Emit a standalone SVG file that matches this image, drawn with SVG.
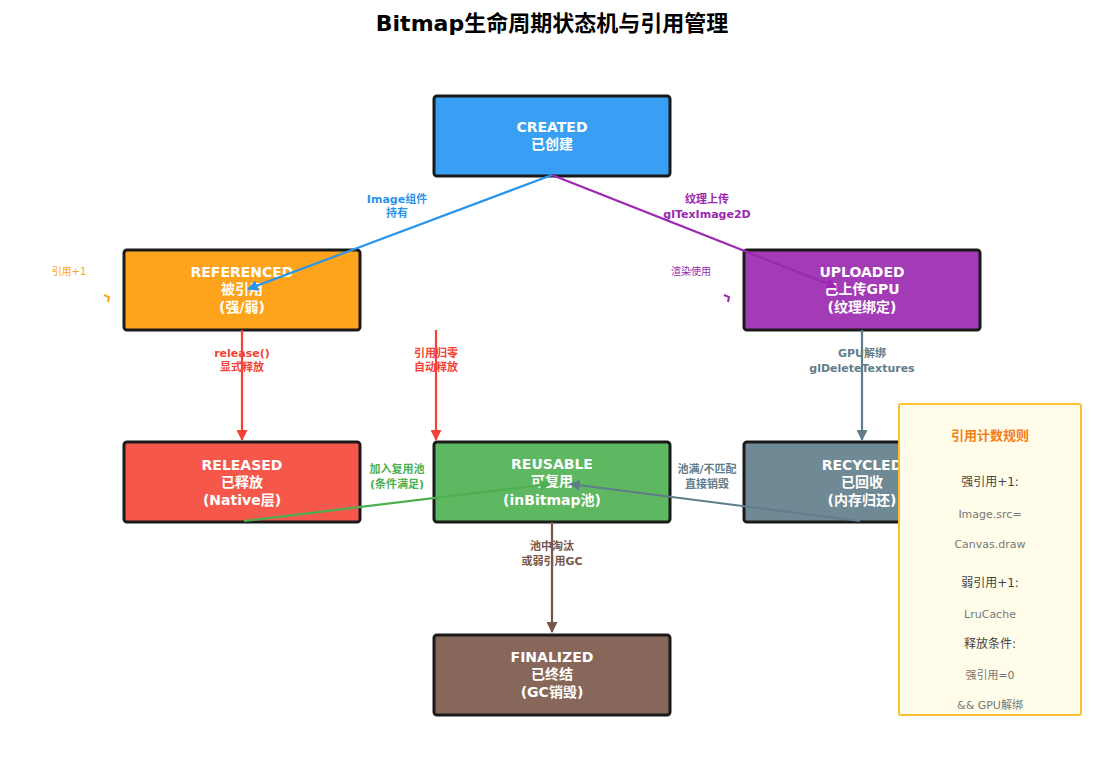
<svg xmlns="http://www.w3.org/2000/svg" width="1105" height="762" viewBox="0 0 1105 762">
<style>
text{font-family:"DejaVu Sans","Noto Sans CJK SC",sans-serif;text-anchor:middle}
.n{stroke:#1a1a1a;stroke-width:3}
.t{fill:#fff;font-weight:bold;font-size:14px}
.l{font-weight:bold;font-size:11px}
.e{fill:none;stroke-width:2.2}
.g{fill:#777;font-size:11px}
.k{fill:#444;font-size:12px}
</style>
<defs>
<marker id="a" viewBox="0 0 10 10" refX="9" refY="5" markerWidth="5" markerHeight="5" orient="auto-start-reverse"><path d="M0,0L10,5L0,10z" fill="context-stroke"/></marker>
</defs>
<rect width="1105" height="762" fill="#fff"/>
<text x="552" y="31" style="font-size:22px;font-weight:bold;fill:#000">Bitmap生命周期状态机与引用管理</text>
<g id="created"><rect class="n" x="434" y="96" width="236" height="80" rx="3" fill="#389ff4"/><text class="t" x="552" y="132">CREATED</text><text class="t" x="552" y="149">已创建</text></g>
<g id="referenced"><rect class="n" x="124" y="250" width="236" height="80" rx="3" fill="#fea31c"/><text class="t" x="242" y="277">REFERENCED</text><text class="t" x="242" y="294">被引用</text><text class="t" x="242" y="312">(强/弱)</text></g>
<g id="uploaded"><rect class="n" x="744" y="250" width="236" height="80" rx="3" fill="#a43bb6"/><text class="t" x="862" y="277">UPLOADED</text><text class="t" x="862" y="294">已上传GPU</text><text class="t" x="862" y="312">(纹理绑定)</text></g>
<g id="released"><rect class="n" x="124" y="442" width="236" height="80" rx="3" fill="#f5584b"/><text class="t" x="242" y="470">RELEASED</text><text class="t" x="242" y="487">已释放</text><text class="t" x="242" y="505">(Native层)</text></g>
<g id="reusable"><rect class="n" x="434" y="442" width="236" height="80" rx="3" fill="#5db861"/><text class="t" x="552" y="469">REUSABLE</text><text class="t" x="552" y="486">可复用</text><text class="t" x="552" y="505">(inBitmap池)</text></g>
<g id="recycled"><rect class="n" x="744" y="442" width="236" height="80" rx="3" fill="#6f8995"/><text class="t" x="862" y="470">RECYCLED</text><text class="t" x="862" y="487">已回收</text><text class="t" x="862" y="505">(内存归还)</text></g>
<g id="finalized"><rect class="n" x="434" y="635" width="236" height="80" rx="3" fill="#87675a"/><text class="t" x="552" y="662">FINALIZED</text><text class="t" x="552" y="679">已终结</text><text class="t" x="552" y="697">(GC销毁)</text></g>
<g id="connectors">
<path class="e" stroke="#2b95e9" d="M552,175L248,289" marker-end="url(#a)"/>
<text class="l" fill="#2b95e9" x="397" y="203">Image组件</text><text class="l" fill="#2b95e9" x="397" y="217">持有</text>
<path class="e" stroke="#9c27b0" d="M552,175L836,287" marker-end="url(#a)"/>
<text class="l" fill="#9c27b0" x="707" y="203">纹理上传</text><text class="l" fill="#9c27b0" x="707" y="218">glTexImage2D</text>
<path class="e" stroke="#f44336" d="M242,330V440" marker-end="url(#a)"/>
<text class="l" fill="#f44336" x="242" y="357">release()</text><text class="l" fill="#f44336" x="242" y="371">显式释放</text>
<path class="e" stroke="#f44336" d="M436,330V440" marker-end="url(#a)"/>
<text class="l" fill="#f44336" x="436" y="357">引用归零</text><text class="l" fill="#f44336" x="436" y="371">自动释放</text>
<path class="e" stroke="#607d8b" d="M862,330V440" marker-end="url(#a)"/>
<text class="l" fill="#607d8b" x="862" y="357">GPU解绑</text><text class="l" fill="#607d8b" x="862" y="372">glDeleteTextures</text>
<path class="e" stroke="#4caf50" d="M244,521L550,484" marker-end="url(#a)"/>
<text class="l" fill="#4caf50" x="397" y="473">加入复用池</text><text class="l" fill="#4caf50" x="397" y="488">(条件满足)</text>
<path class="e" stroke="#607d8b" d="M860,521L570,484" marker-end="url(#a)"/>
<text class="l" fill="#607d8b" x="707" y="473">池满/不匹配</text><text class="l" fill="#607d8b" x="707" y="488">直接销毁</text>
<path class="e" stroke="#795548" d="M552,522V632" marker-end="url(#a)"/>
<text class="l" fill="#795548" x="552" y="550">池中淘汰</text><text class="l" fill="#795548" x="552" y="565">或弱引用GC</text>
<text x="69" y="275" style="font-size:10px;fill:#fea31c">引用+1</text>
<path d="M104,295L109,297L108,302" fill="none" stroke="#fea31c" stroke-width="2"/>
<text x="691" y="275" style="font-size:10px;fill:#9c27b0">渲染使用</text>
<path d="M724,295L729,297L728,302" fill="none" stroke="#9c27b0" stroke-width="2"/>
</g>
<g id="legend"><rect x="899" y="404" width="182" height="311" rx="2" fill="#fffde9" stroke="#fbc02d" stroke-width="2"/>
<text x="990" y="440" style="font-size:13px;font-weight:bold;fill:#f57f17">引用计数规则</text>
<text class="k" x="990" y="486">强引用+1:</text>
<text class="g" x="990" y="518">Image.src=</text>
<text class="g" x="990" y="548">Canvas.draw</text>
<text class="k" x="990" y="587">弱引用+1:</text>
<text class="g" x="990" y="618">LruCache</text>
<text class="k" x="990" y="648">释放条件:</text>
<text class="g" x="990" y="679">强引用=0</text>
<text class="g" x="990" y="709">&amp;&amp; GPU解绑</text>
</g>
</svg>
